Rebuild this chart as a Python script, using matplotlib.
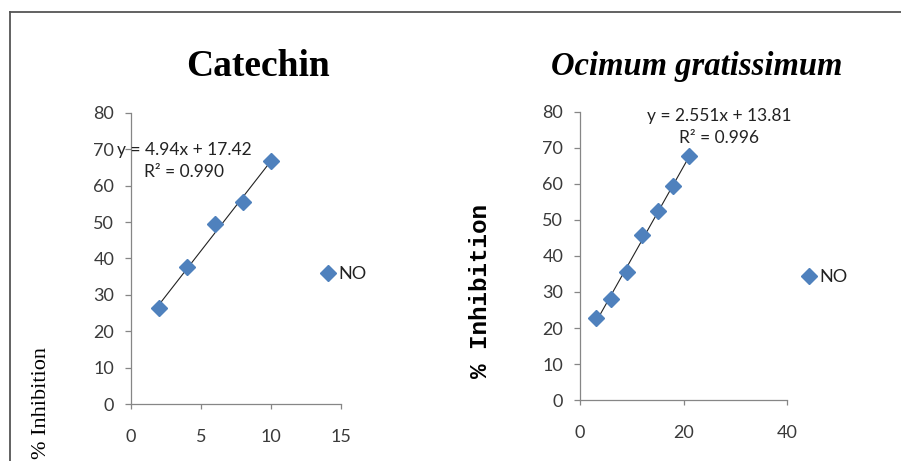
"""
Nitric oxide inhibition curves: Catechin vs Ocimum gratissimum.
"""

import matplotlib
matplotlib.use('Agg')
from matplotlib import pyplot as plt
from matplotlib.lines import Line2D

# Catechin
cat_conc = [2, 4, 6, 8, 10]
cat_inhib = [26.5, 37.7, 49.5, 55.4, 66.8]
cat_slope, cat_icpt = 4.94, 17.42
cat_eq = ['y = 4.94x + 17.42', 'R² = 0.990']

# Ocimum gratissimum
oci_conc = [3, 6, 9, 12, 15, 18, 21]
oci_inhib = [22.9, 28.1, 35.6, 45.8, 52.6, 59.5, 67.9]
oci_slope, oci_icpt = 2.551, 13.81
oci_eq = ['y = 2.551x + 13.81', 'R² = 0.996']

cat_xticks = [0, 5, 10, 15]
oci_xticks = [0, 20, 40]
yticks = [0, 10, 20, 30, 40, 50, 60, 70, 80]

W, H = 901, 461
blue = '#4F81BD'
spine = '#868686'
tick_font = 'Lato'


def style_axes(ax, xticks):
    for side in ('top', 'right'):
        ax.spines[side].set_visible(False)
    for side in ('left', 'bottom'):
        ax.spines[side].set_color(spine)
        ax.spines[side].set_linewidth(0.9)
    ax.set_xticks(xticks)
    ax.set_yticks(yticks)
    ax.set_xlim(xticks[0], xticks[-1])
    ax.set_ylim(0, 80)
    ax.tick_params(axis='y', length=4.5, width=0.9, color=spine, pad=7.5,
                   labelsize=13, labelcolor='#3a3a3a')
    ax.tick_params(axis='x', length=3.5, width=0.9, color=spine, pad=14.5,
                   labelsize=13, labelcolor='#3a3a3a')
    for lab in ax.get_xticklabels() + ax.get_yticklabels():
        lab.set_fontfamily(tick_font)


def draw_panel(ax, conc, inhib, slope, icpt, xticks, eq, eq_xy, leg_xy):
    style_axes(ax, xticks)
    xs = [min(conc), max(conc)]
    ax.plot(xs, [slope * v + icpt for v in xs], color='#222222', lw=0.8, zorder=2)
    ax.plot(conc, inhib, ls='none', marker='D', ms=8.5, color=blue,
            label='NO', zorder=3, clip_on=False)
    ax.text(eq_xy[0], eq_xy[1], eq[0] + '\n' + eq[1], transform=ax.transAxes,
            ha='center', va='center', fontsize=12.5, family=tick_font,
            color='#222222', linespacing=1.45, zorder=4)
    ax.legend(loc='center left', bbox_to_anchor=leg_xy, frameon=False,
              handlelength=0.8, handletextpad=0.15, borderpad=0,
              borderaxespad=0, prop={'family': tick_font, 'size': 13},
              labelcolor='#222222')


fig = plt.figure(figsize=(W / 100, H / 100), dpi=100)

ax1 = fig.add_axes([131 / W, 1 - 404 / H, 210 / W, 291 / H])
draw_panel(ax1, cat_conc, cat_inhib, cat_slope, cat_icpt, cat_xticks, cat_eq,
           ((184 - 131) / 210, (404 - 161) / 291),
           ((321 - 131) / 210, (404 - 274) / 291))

ax2 = fig.add_axes([580 / W, 1 - 400 / H, 207 / W, 288 / H])
draw_panel(ax2, oci_conc, oci_inhib, oci_slope, oci_icpt, oci_xticks, oci_eq,
           ((719 - 580) / 207, (400 - 127) / 288),
           ((802 - 580) / 207, (400 - 277) / 288))

# titles
fig.text(258 / W, 1 - 67 / H, 'Catechin', ha='center', va='center',
         family='Liberation Serif', fontweight='bold', fontsize=27)
fig.text(697 / W, 1 - 66 / H, 'Ocimum gratissimum', ha='center', va='center',
         family='Liberation Serif', fontweight='bold', style='italic', fontsize=23.5)

# y labels
fig.text(42 / W, 1 - 403 / H, '% Inhibition', ha='center', va='center',
         rotation=90, family='Liberation Serif', fontsize=16)
fig.text(480 / W, 1 - 291 / H, '% Inhibition', ha='center', va='center',
         rotation=90, family='Liberation Mono', fontweight='bold', fontsize=17.5)

# outer frame (top and left edges only)
top = 1 - 12.5 / H
left = 9.5 / W
fig.add_artist(Line2D([left, 1], [top, top], color='#555555', lw=1.3))
fig.add_artist(Line2D([left, left], [0, top], color='#555555', lw=1.3))

fig.savefig('out.png', dpi=100)
